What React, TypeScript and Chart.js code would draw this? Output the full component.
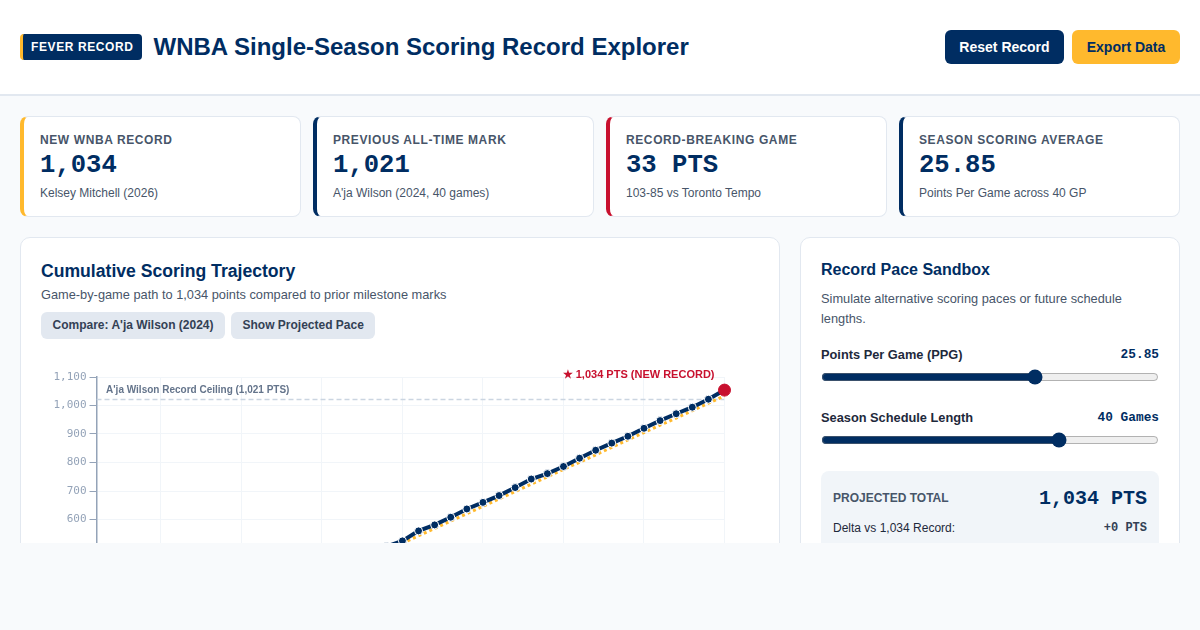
import React, { useEffect, useRef } from "react";
import { Chart, registerables } from "chart.js";

Chart.register(...registerables);

const NAVY = "#002d62";
const GOLD = "#ffb92d";
const RED = "#c8102e";
const SANS = '"Liberation Sans", Arial, sans-serif';
const MONO = '"Liberation Mono", "Courier New", monospace';
const TICK_FONT = '"DejaVu Sans Mono", monospace';

const games = [
  1, 2, 3, 4, 5, 6, 7, 8, 9, 10, 11, 12, 13, 14, 15, 16, 17, 18, 19, 20, 21, 22,
  23, 24, 25, 26, 27, 28, 29, 30, 31, 32, 33, 34, 35, 36, 37, 38, 39, 40,
];
// games 1-19 sit below the visible part of the page, so those are estimates
const mitchellTotals = [
  28, 51, 79, 104, 131, 158, 183, 211, 236, 263, 289, 317, 342, 369, 396, 422,
  449, 476, 505, 525, 560, 581, 608, 637, 660, 684, 712, 742, 761, 786, 815,
  843, 868, 892, 920, 947, 971, 994, 1022, 1054,
];
const paceTotals = [
  26, 52, 78, 103, 129, 155, 181, 207, 233, 259, 284, 310, 336, 362, 388, 414,
  439, 465, 491, 517, 543, 569, 595, 620, 646, 672, 698, 724, 750, 776, 801,
  827, 853, 879, 905, 931, 956, 982, 1008, 1034,
];
const wilsonCeiling = 1021;
const ceilingGames = [1, 40];

const statLabels = [
  "NEW WNBA RECORD",
  "PREVIOUS ALL-TIME MARK",
  "RECORD-BREAKING GAME",
  "SEASON SCORING AVERAGE",
];
const statValues = ["1,034", "1,021", "33 PTS", "25.85"];
const statNotes = [
  "Kelsey Mitchell (2026)",
  "A'ja Wilson (2024, 40 games)",
  "103-85 vs Toronto Tempo",
  "Points Per Game across 40 GP",
];
const statAccents = [GOLD, NAVY, RED, NAVY];

const labelsPlugin = {
  id: "recordLabels",
  afterDatasetsDraw(chart: Chart) {
    const { ctx, scales } = chart;
    ctx.save();
    ctx.textBaseline = "alphabetic";
    ctx.textAlign = "left";
    ctx.fillStyle = "#64748b";
    ctx.font = `bold 10px ${SANS}`;
    ctx.fillText(
      "A'ja Wilson Record Ceiling (1,021 PTS)",
      scales.x.getPixelForValue(1) + 9.5,
      scales.y.getPixelForValue(wilsonCeiling) - 6.5
    );
    ctx.textAlign = "right";
    ctx.fillStyle = RED;
    ctx.font = `bold 11px ${SANS}`;
    ctx.fillText(
      "★ 1,034 PTS (NEW RECORD)",
      scales.x.getPixelForValue(40) - 10,
      scales.y.getPixelForValue(1100) + 1
    );
    ctx.restore();
  },
};

function TrajectoryChart() {
  const canvasRef = useRef<HTMLCanvasElement>(null);

  useEffect(() => {
    if (!canvasRef.current) return;
    const last = games.length - 1;
    const chart = new Chart(canvasRef.current, {
      type: "line",
      data: {
        datasets: [
          {
            label: "Kelsey Mitchell",
            data: games.map((g, i) => ({ x: g, y: mitchellTotals[i] })),
            borderColor: NAVY,
            borderWidth: 4,
            pointRadius: (c: any) => (c.dataIndex === last ? 6 : 4),
            pointBackgroundColor: (c: any) => (c.dataIndex === last ? RED : NAVY),
            pointBorderColor: (c: any) => (c.dataIndex === last ? RED : "#ffffff"),
            pointBorderWidth: 1,
            tension: 0,
            clip: false,
            order: 1,
          },
          {
            label: "Projected pace",
            data: games.map((g, i) => ({ x: g, y: paceTotals[i] })),
            borderColor: GOLD,
            borderWidth: 3,
            borderDash: [3, 3],
            pointRadius: 0,
            tension: 0,
            order: 2,
          },
          {
            label: "Wilson ceiling",
            data: ceilingGames.map((g) => ({ x: g, y: wilsonCeiling })),
            borderColor: "#cbd5e1",
            borderWidth: 1.5,
            borderDash: [5, 3],
            pointRadius: 0,
            order: 3,
          },
        ],
      },
      options: {
        animation: false,
        responsive: true,
        maintainAspectRatio: false,
        layout: { padding: { top: 30, right: 34.5 } },
        plugins: { legend: { display: false }, tooltip: { enabled: false } },
        scales: {
          x: {
            type: "linear",
            min: 1,
            max: 40,
            afterFit: (s: any) => {
              s.height = 56.5;
            },
            grid: { color: "#f1f5f9", drawTicks: true, tickLength: 6 },
            border: { color: "#94a3b8", width: 1.5 },
            ticks: {
              stepSize: 5,
              color: "#94a3b8",
              font: { family: TICK_FONT, size: 11 },
            },
          },
          y: {
            min: 0,
            max: 1100,
            afterFit: (s: any) => {
              s.width = 55.5;
            },
            grid: { color: "#f1f5f9", tickColor: "#94a3b8", tickLength: 7 },
            border: { color: "#94a3b8", width: 1.5 },
            ticks: {
              stepSize: 100,
              color: "#94a3b8",
              font: { family: TICK_FONT, size: 11 },
              callback: (v: any) => Number(v).toLocaleString("en-US"),
            },
          },
        },
      },
      plugins: [labelsPlugin],
    } as any);

    return () => {
      chart.destroy();
    };
  }, []);

  return (
    <div style={{ position: "relative", height: 400, marginTop: 8 }}>
      <canvas ref={canvasRef} />
    </div>
  );
}

function StatCard({ index }: { index: number }) {
  return (
    <div
      style={{
        height: 101,
        boxSizing: "border-box",
        background: "#fff",
        border: "1px solid #e2e8f0",
        borderLeft: `4px solid ${statAccents[index]}`,
        borderRadius: 8,
        padding: "16px 16px 0",
      }}
    >
      <div style={{ fontSize: 12, fontWeight: 700, letterSpacing: 0.6, color: "#475569", lineHeight: "14px" }}>
        {statLabels[index]}
      </div>
      <div style={{ fontFamily: MONO, fontSize: 25.6, fontWeight: 700, color: NAVY, lineHeight: "30px", marginTop: 4 }}>
        {statValues[index]}
      </div>
      <div style={{ fontSize: 12, color: "#475569", lineHeight: "14px", marginTop: 5 }}>{statNotes[index]}</div>
    </div>
  );
}

function Slider({ label, value, min, max, current }: { label: string; value: string; min: number; max: number; current: number }) {
  return (
    <div style={{ marginBottom: 23 }}>
      <div style={{ display: "flex", justifyContent: "space-between", alignItems: "center", height: 18 }}>
        <span style={{ fontSize: 12.8, fontWeight: 700, color: "#1e293b" }}>{label}</span>
        <span style={{ fontFamily: MONO, fontSize: 12.8, fontWeight: 700, color: NAVY }}>{value}</span>
      </div>
      <input
        type="range"
        min={min}
        max={max}
        step={0.01}
        defaultValue={current}
        style={{ width: "100%", margin: "6px 0 0", accentColor: NAVY, display: "block" }}
      />
    </div>
  );
}

export default function App() {
  return (
    <div style={{ width: 1200, height: 630, background: "#f8fafc", fontFamily: SANS }}>
      <style>{"body{margin:0}"}</style>
      <div style={{ height: 543, overflow: "hidden" }}>
        <header
          style={{
            height: 96,
            boxSizing: "border-box",
            background: "#fff",
            borderBottom: "2px solid #e2e8f0",
            padding: "0 20px",
            display: "flex",
            alignItems: "center",
            justifyContent: "space-between",
          }}
        >
          <div style={{ display: "flex", alignItems: "center", gap: 12 }}>
            <span
              style={{
                background: NAVY,
                color: "#fff",
                borderLeft: `3px solid ${GOLD}`,
                borderRadius: 4,
                fontSize: 12,
                fontWeight: 700,
                letterSpacing: 0.6,
                padding: "6px 8px",
                lineHeight: "14px",
              }}
            >
              FEVER RECORD
            </span>
            <h1 style={{ margin: 0, fontSize: 24, fontWeight: 700, color: NAVY }}>
              WNBA Single-Season Scoring Record Explorer
            </h1>
          </div>
          <div style={{ display: "flex", gap: 8 }}>
            <button style={{ background: NAVY, color: "#fff", border: 0, borderRadius: 6, height: 34, width: 119, fontFamily: SANS, fontSize: 14, fontWeight: 700 }}>
              Reset Record
            </button>
            <button style={{ background: GOLD, color: NAVY, border: 0, borderRadius: 6, height: 34, width: 108, fontFamily: SANS, fontSize: 14, fontWeight: 700 }}>
              Export Data
            </button>
          </div>
        </header>

        <div style={{ padding: 20 }}>
          <div style={{ display: "grid", gridTemplateColumns: "repeat(4, 1fr)", gap: 12 }}>
            {statLabels.map((_, i) => (
              <StatCard key={i} index={i} />
            ))}
          </div>

          <div style={{ display: "grid", gridTemplateColumns: "2fr 1fr", gap: 20, marginTop: 20 }}>
            <section style={{ background: "#fff", border: "1px solid #e2e8f0", borderRadius: 10, padding: 20, boxSizing: "border-box", height: 520 }}>
              <h2 style={{ margin: 0, fontSize: 17.6, fontWeight: 700, color: NAVY, lineHeight: "26px" }}>
                Cumulative Scoring Trajectory
              </h2>
              <p style={{ margin: "2px 0 0", fontSize: 12.8, color: "#475569", lineHeight: "18px" }}>
                Game-by-game path to 1,034 points compared to prior milestone marks
              </p>
              <div style={{ display: "flex", gap: 6, marginTop: 8 }}>
                {["Compare: A'ja Wilson (2024)", "Show Projected Pace"].map((t) => (
                  <span
                    key={t}
                    style={{ background: "#e2e8f0", color: "#334155", borderRadius: 6, fontSize: 12, fontWeight: 700, padding: "0 11.5px", lineHeight: "27px" }}
                  >
                    {t}
                  </span>
                ))}
              </div>
              <TrajectoryChart />
            </section>

            <section style={{ background: "#fff", border: "1px solid #e2e8f0", borderRadius: 10, padding: 20, boxSizing: "border-box", height: 520 }}>
              <h3 style={{ margin: "1px 0 0", fontSize: 16, fontWeight: 700, color: NAVY, lineHeight: "22px" }}>Record Pace Sandbox</h3>
              <p style={{ margin: "8px 0 0", fontSize: 12.8, color: "#475569", lineHeight: "20px" }}>
                Simulate alternative scoring paces or future schedule lengths.
              </p>
              <div style={{ marginTop: 16 }}>
                <Slider label="Points Per Game (PPG)" value="25.85" min={15} max={32} current={25.85} />
                <Slider label="Season Schedule Length" value="40 Games" min={20} max={48} current={40} />
              </div>
              <div style={{ background: "#f1f5f9", borderRadius: 8, padding: "12px", marginTop: 23, height: 120 }}>
                <div style={{ display: "flex", justifyContent: "space-between", alignItems: "center", height: 30 }}>
                  <span style={{ fontSize: 12, fontWeight: 700, color: "#475569" }}>PROJECTED TOTAL</span>
                  <span style={{ fontFamily: MONO, fontSize: 20, fontWeight: 700, color: NAVY }}>1,034 PTS</span>
                </div>
                <div style={{ display: "flex", justifyContent: "space-between", alignItems: "center", marginTop: 6, height: 18 }}>
                  <span style={{ fontSize: 12, color: "#1e293b" }}>Delta vs 1,034 Record:</span>
                  <span style={{ fontFamily: MONO, fontSize: 12, fontWeight: 700, color: "#334155" }}>+0 PTS</span>
                </div>
              </div>
            </section>
          </div>
        </div>
      </div>
    </div>
  );
}
